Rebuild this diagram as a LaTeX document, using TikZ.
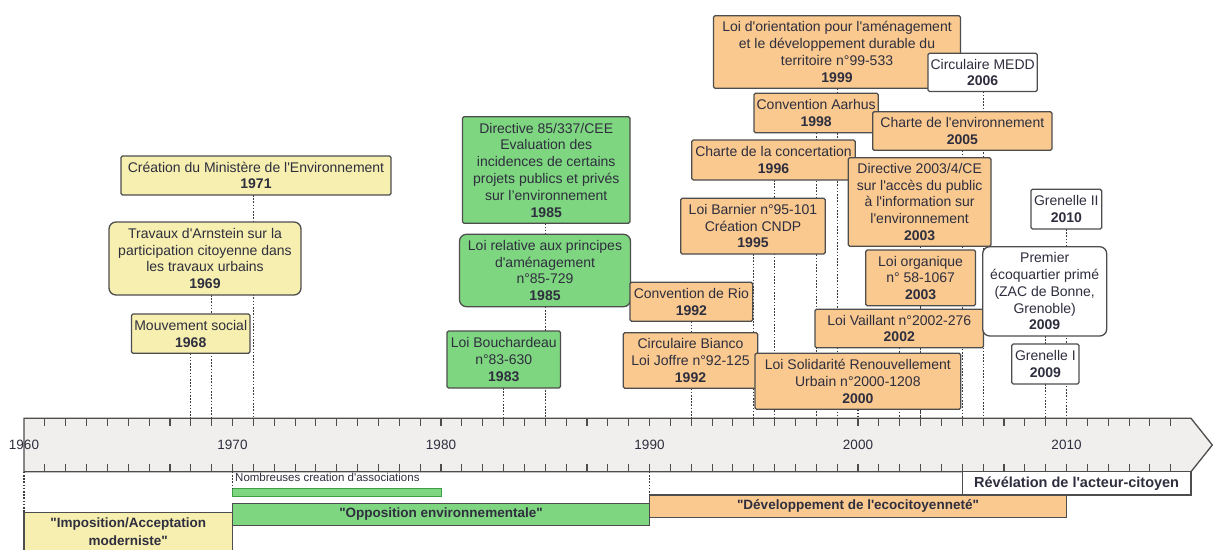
\documentclass[tikz,border=0pt]{standalone}
\usepackage{fontspec}
\setmainfont{Liberation Sans}[Ligatures=TeXOff]
\pgfdeclarelayer{bg}
\pgfsetlayers{bg,main}
\definecolor{cyel}{HTML}{F6EFAF}
\definecolor{cgrn}{HTML}{7FD680}
\definecolor{cgrnd}{HTML}{3E9E45}
\definecolor{corg}{HTML}{F9C98F}
\definecolor{cbar}{HTML}{F0EFED}
\definecolor{cbord}{HTML}{4D4D4D}
\definecolor{ctext}{HTML}{2E2E3E}
\definecolor{cdot}{HTML}{3A3A3A}
\tikzset{
  ev/.style={draw=cbord, line width=1.3pt, rounded corners=1.5pt, anchor=north west, inner sep=0pt, outer sep=0pt, align=center, text=ctext, font=\fontsize{14}{16.8}\selectfont},
  yel/.style={ev, fill=cyel},
  grn/.style={ev, fill=cgrn},
  org/.style={ev, fill=corg},
  wht/.style={ev, fill=white},
  rnd/.style={rounded corners=7pt},
  dotl/.style={draw=cdot, line width=1.2pt, dash pattern=on 1.6pt off 1.6pt},
  tickl/.style={draw=cbord, line width=1.1pt},
  axlab/.style={font=\fontsize{13.5}{15}\selectfont, text=ctext, inner sep=0pt},
  band/.style={draw=cbord, line width=1.3pt, anchor=north west, inner sep=0pt, outer sep=0pt, align=center, text=ctext, font=\fontsize{13.5}{17}\selectfont\bfseries},
}
\begin{document}
\begin{tikzpicture}[x=1pt,y=-1pt]
\useasboundingbox (0,0) rectangle (1213,549);
\clip (0,0) rectangle (1213,549);

% timeline bar
\path[draw=cbord, fill=cbar, line width=1.3pt] (24,418.3) -- (1191,418.3) -- (1212.3,445) -- (1191,471.7) -- (24,471.7) -- cycle;
\foreach \i in {1,...,55} {
  \draw[tickl] ({24+20.85*\i},418.3) -- ++(0,8);
  \draw[tickl] ({24+20.85*\i},471.7) -- ++(0,-8);
}
\foreach \d in {0,1,2,3,4,5} {
  \pgfmathtruncatemacro{\yy}{1960+10*\d}
  \node[axlab] (lab\yy) at ({24+208.5*\d},444.5) {\yy};
}
\foreach \yr in {1968,1969,1971,1983,1985,1992,1995,1996,1998,1999,2000,2002,2003,2005,2006,2009,2010} {
  \coordinate (t\yr) at ({24+20.85*(\yr-1960)},418.3);
}
\coordinate (b1960) at (24,471.7);
\coordinate (b1970) at (232.5,471.7);
\coordinate (b1990) at (649.5,471.7);

% event boxes
\node[yel, minimum width=270pt, minimum height=39pt] (cre) at (121,156) {Création du Ministère de l'Environnement\\\textbf{1971}};
\node[yel, rnd, minimum width=192pt, minimum height=73pt] (arn) at (109,222) {Travaux d'Arnstein sur la\\participation citoyenne dans\\les travaux urbains\\\textbf{1969}};
\node[yel, minimum width=118.5pt, minimum height=39.3pt] (mvt) at (131.5,314) {Mouvement social\\\textbf{1968}};

\node[grn, minimum width=167.5pt, minimum height=106.6pt] (dir85) at (462.5,116.7) {Directive 85/337/CEE\\Evaluation des\\incidences de certains\\projets publics et privés\\sur l’environnement\\\textbf{1985}};
\node[grn, rnd, minimum width=171pt, minimum height=72.4pt] (rel) at (459.5,234.3) {Loi relative aux principes\\d'aménagement\\n°85-729\\\textbf{1985}};
\node[grn, minimum width=113.5pt, minimum height=57pt] (bou) at (447,331) {Loi Bouchardeau\\n°83-630\\\textbf{1983}};

\node[org, minimum width=247pt, minimum height=72.6pt] (ori) at (713.5,15.7) {Loi d'orientation pour l'aménagement\\et le développement durable du\\territoire n°99-533\\\textbf{1999}};
\node[wht, minimum width=109.3pt, minimum height=38.2pt] (medd) at (928,53.3) {Circulaire MEDD\\\textbf{2006}};
\node[org, minimum width=124.3pt, minimum height=39.4pt] (aar) at (754,93.3) {Convention Aarhus\\\textbf{1998}};
\node[org, minimum width=179.3pt, minimum height=38.6pt] (cenv) at (872.7,111.7) {Charte de l'environnement\\\textbf{2005}};
\node[org, minimum width=163.6pt, minimum height=40pt] (conc) at (691.7,140) {Charte de la concertation\\\textbf{1996}};
\node[org, minimum width=142.7pt, minimum height=88.6pt] (dir03) at (848.3,157.7) {Directive 2003/4/CE\\sur l'accès du public\\à l'information sur\\l'environnement\\\textbf{2003}};
\node[org, minimum width=144.6pt, minimum height=55.7pt] (bar) at (680.7,198.3) {Loi Barnier n°95-101\\Création CNDP\\\textbf{1995}};
\node[org, minimum width=109.8pt, minimum height=55.7pt] (org) at (865.7,250) {Loi organique\\n° 58-1067\\\textbf{2003}};
\node[org, minimum width=122.7pt, minimum height=39pt] (rio) at (630,282.3) {Convention de Rio\\\textbf{1992}};
\node[org, minimum width=134.4pt, minimum height=55.6pt] (bia) at (623.3,332.7) {Circulaire Bianco\\Loi Joffre n°92-125\\\textbf{1992}};
\node[org, minimum width=205.7pt, minimum height=56pt] (sru) at (755,353.3) {Loi Solidarité Renouvellement\\Urbain n°2000-1208\\\textbf{2000}};
\node[org, minimum width=168.5pt, minimum height=38.4pt] (vai) at (815,309.3) {Loi Vaillant n°2002-276\\\textbf{2002}};

\node[wht, minimum width=70.7pt, minimum height=39.7pt] (gr2) at (1031,189.3) {Grenelle II\\\textbf{2010}};
\node[wht, rnd, minimum width=124pt, minimum height=89.3pt] (eco) at (982.7,246.7) {Premier\\écoquartier primé\\(ZAC de Bonne,\\Grenoble)\\\textbf{2009}};
\node[wht, minimum width=67.3pt, minimum height=40pt] (gr1) at (1011.7,344) {Grenelle I\\\textbf{2009}};

% bottom bands
\node[band, fill=white, minimum width=228.8pt, minimum height=23.3pt, font=\fontsize{14.5}{17}\selectfont\bfseries] (rev) at (962.25,471.7) {Révélation de l'acteur-citoyen};
\node[band, fill=corg, minimum width=417pt, minimum height=22.5pt] (dev) at (649.5,495) {"Développement de l'ecocitoyenneté"};
\node[band, fill=cgrn, minimum width=417pt, minimum height=22.2pt] (opp) at (232.5,503.3) {"Opposition environnementale"};
\node[band, fill=cyel, minimum width=208.5pt, minimum height=60pt] (imp) at (24,512.3) {};
\node[align=center, text=ctext, inner sep=0pt, font=\fontsize{13.5}{17.5}\selectfont\bfseries] (imptxt) at (128.3,531.5) {"Imposition/Acceptation\\moderniste"};
\node[draw=cgrnd, line width=0.9pt, fill=cgrn, minimum width=208.5pt, minimum height=7.7pt, anchor=north west, inner sep=0pt, outer sep=0pt] (assoc) at (232.5,488.3) {};
\node[anchor=west, inner sep=0pt, text=ctext, font=\fontsize{11.5}{13}\selectfont] (assoctxt) at (235,477.8) {Nombreuses creation d'associations};

\begin{pgfonlayer}{bg}
\draw[dotl] (cre.south -| t1971) -- (t1971);
\draw[dotl] (arn.south -| t1969) -- (t1969);
\draw[dotl] (mvt.south -| t1968) -- (t1968);
\draw[dotl] (dir85.south -| t1985) -- (t1985);
\draw[dotl] (rel.south -| t1985) -- (t1985);
\draw[dotl] (bou.south -| t1983) -- (t1983);
\draw[dotl] (ori.south -| t1999) -- (t1999);
\draw[dotl] (medd.south -| t2006) -- (t2006);
\draw[dotl] (aar.south -| t1998) -- (t1998);
\draw[dotl] (cenv.south -| t2005) -- (t2005);
\draw[dotl] (conc.south -| t1996) -- (t1996);
\draw[dotl] (dir03.south -| t2003) -- (t2003);
\draw[dotl] (bar.south -| t1995) -- (t1995);
\draw[dotl] (org.south -| t2003) -- (t2003);
\draw[dotl] (rio.south -| t1992) -- (t1992);
\draw[dotl] (bia.south -| t1992) -- (t1992);
\draw[dotl] (sru.south -| t2000) -- (t2000);
\draw[dotl] (vai.south -| t2002) -- (t2002);
\draw[dotl] (gr2.south -| t2010) -- (t2010);
\draw[dotl] (eco.south -| t2009) -- (t2009);
\draw[dotl] (gr1.south -| t2009) -- (t2009);
\end{pgfonlayer}
\draw[dotl] (b1960) -- (imp.north -| b1960);
\draw[dotl] (b1970) -- (assoc.north west);
\draw[dotl] (b1990) -- (dev.north west);
\end{tikzpicture}
\end{document}
